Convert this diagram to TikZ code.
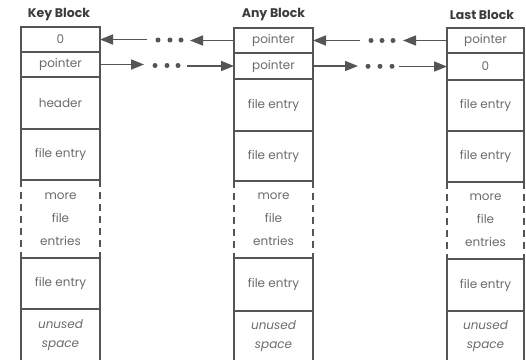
\documentclass[tikz,border=0pt]{standalone}
\usepackage{fontspec}
\setmainfont{Poppins}
\usetikzlibrary{arrows.meta}
\definecolor{ln}{HTML}{555555}
\definecolor{tx}{HTML}{6A6A6A}
\definecolor{tt}{HTML}{3C3C3C}
\tikzset{
  cellbox/.style={draw=ln, line width=1.7pt, inner sep=0pt, outer sep=0pt, text=tx,
    font=\fontsize{12}{14}\selectfont, align=center},
  openbox/.style={inner sep=0pt, outer sep=0pt, text=tx,
    font=\fontsize{12}{23}\selectfont, align=center},
  unusedbox/.style={cellbox, font=\fontsize{12}{19}\selectfont\itshape},
  dashside/.style={draw=ln, line width=1.7pt, dash pattern=on 7pt off 5pt},
  titlenode/.style={text=tt, font=\fontsize{12.5}{14}\selectfont\bfseries, inner sep=0pt},
  arr/.style={draw=ln, line width=1.7pt, -{Triangle[length=13pt,width=10pt]}},
  dotn/.style={circle, fill=ln, minimum size=5pt, inner sep=0pt}
}
\begin{document}
\begin{tikzpicture}[x=1pt,y=-1pt]
\useasboundingbox (0,0) rectangle (526,359);
% titles
\node[titlenode] (tk) at (59,15) {Key Block};
\node[titlenode] (ta) at (273.5,15) {Any Block};
\node[titlenode] (tl) at (482,15) {Last Block};
% Key block
\node[cellbox, minimum width=79, minimum height=25] (k1) at (60.5,39.5) {0};
\node[cellbox, minimum width=79, minimum height=25] (k2) at (60.5,64.5) {pointer};
\node[cellbox, minimum width=79, minimum height=52] (k3) at (60.5,103) {header};
\node[cellbox, minimum width=79, minimum height=51] (k4) at (60.5,154.5) {file entry};
\node[openbox, minimum width=79, minimum height=78] (k5) at (60.5,219) {more\\file\\entries};
\node[cellbox, minimum width=79, minimum height=51] (k6) at (60.5,283.5) {file entry};
\node[unusedbox, minimum width=79, minimum height=53] (k7) at (60.5,335.5) {unused\\space};
\draw[dashside] (k5.north west) -- (k5.south west);
\draw[dashside] (k5.north east) -- (k5.south east);
% Any block
\node[cellbox, minimum width=79, minimum height=25] (a1) at (273.5,40.5) {pointer};
\node[cellbox, minimum width=79, minimum height=26] (a2) at (273.5,66) {pointer};
\node[cellbox, minimum width=79, minimum height=52] (a3) at (273.5,105) {file entry};
\node[cellbox, minimum width=79, minimum height=50] (a4) at (273.5,156) {file entry};
\node[openbox, minimum width=79, minimum height=77] (a5) at (273.5,219.5) {more\\file\\entries};
\node[cellbox, minimum width=79, minimum height=53] (a6) at (273.5,284.5) {file entry};
\node[unusedbox, minimum width=79, minimum height=51] (a7) at (273.5,336.5) {unused\\space};
\draw[dashside] (a5.north west) -- (a5.south west);
\draw[dashside] (a5.north east) -- (a5.south east);
% Last block
\node[cellbox, minimum width=77, minimum height=25] (l1) at (485.5,40.5) {pointer};
\node[cellbox, minimum width=77, minimum height=27] (l2) at (485.5,66.5) {0};
\node[cellbox, minimum width=77, minimum height=51] (l3) at (485.5,105.5) {file entry};
\node[cellbox, minimum width=77, minimum height=51] (l4) at (485.5,156.5) {file entry};
\node[openbox, minimum width=77, minimum height=77] (l5) at (485.5,220.5) {more\\file\\entries};
\node[cellbox, minimum width=77, minimum height=52] (l6) at (485.5,285) {file entry};
\node[unusedbox, minimum width=77, minimum height=51] (l7) at (485.5,336.5) {unused\\space};
\draw[dashside] (l5.north west) -- (l5.south west);
\draw[dashside] (l5.north east) -- (l5.south east);
% connectors Key <-> Any
\coordinate (ka1) at (147,39.5);
\coordinate (ka2) at (190,40.5);
\coordinate (kb1) at (144,64.5);
\coordinate (kb2) at (187,66);
\draw[arr] (ka1) -- (k1.east);
\draw[arr] (a1.west) -- (ka2);
\draw[arr] (k2.east) -- (kb1);
\draw[arr] (kb2) -- (a2.west);
\node[dotn] (d1) at (158,40) {};
\node[dotn] (d2) at (170,40) {};
\node[dotn] (d3) at (181,40) {};
\node[dotn] (d4) at (155,65.5) {};
\node[dotn] (d5) at (167,65.5) {};
\node[dotn] (d6) at (178,65.5) {};
% connectors Any <-> Last
\coordinate (ab1) at (360,40.5);
\coordinate (ab2) at (403,40.5);
\coordinate (ab3) at (358,66);
\coordinate (ab4) at (399,66.5);
\draw[arr] (ab1) -- (a1.east);
\draw[arr] (l1.west) -- (ab2);
\draw[arr] (a2.east) -- (ab3);
\draw[arr] (ab4) -- (l2.west);
\node[dotn] (e1) at (371,40.5) {};
\node[dotn] (e2) at (382,40.5) {};
\node[dotn] (e3) at (393,40.5) {};
\node[dotn] (e4) at (368,66.3) {};
\node[dotn] (e5) at (380,66.3) {};
\node[dotn] (e6) at (392,66.3) {};
\end{tikzpicture}
\end{document}
